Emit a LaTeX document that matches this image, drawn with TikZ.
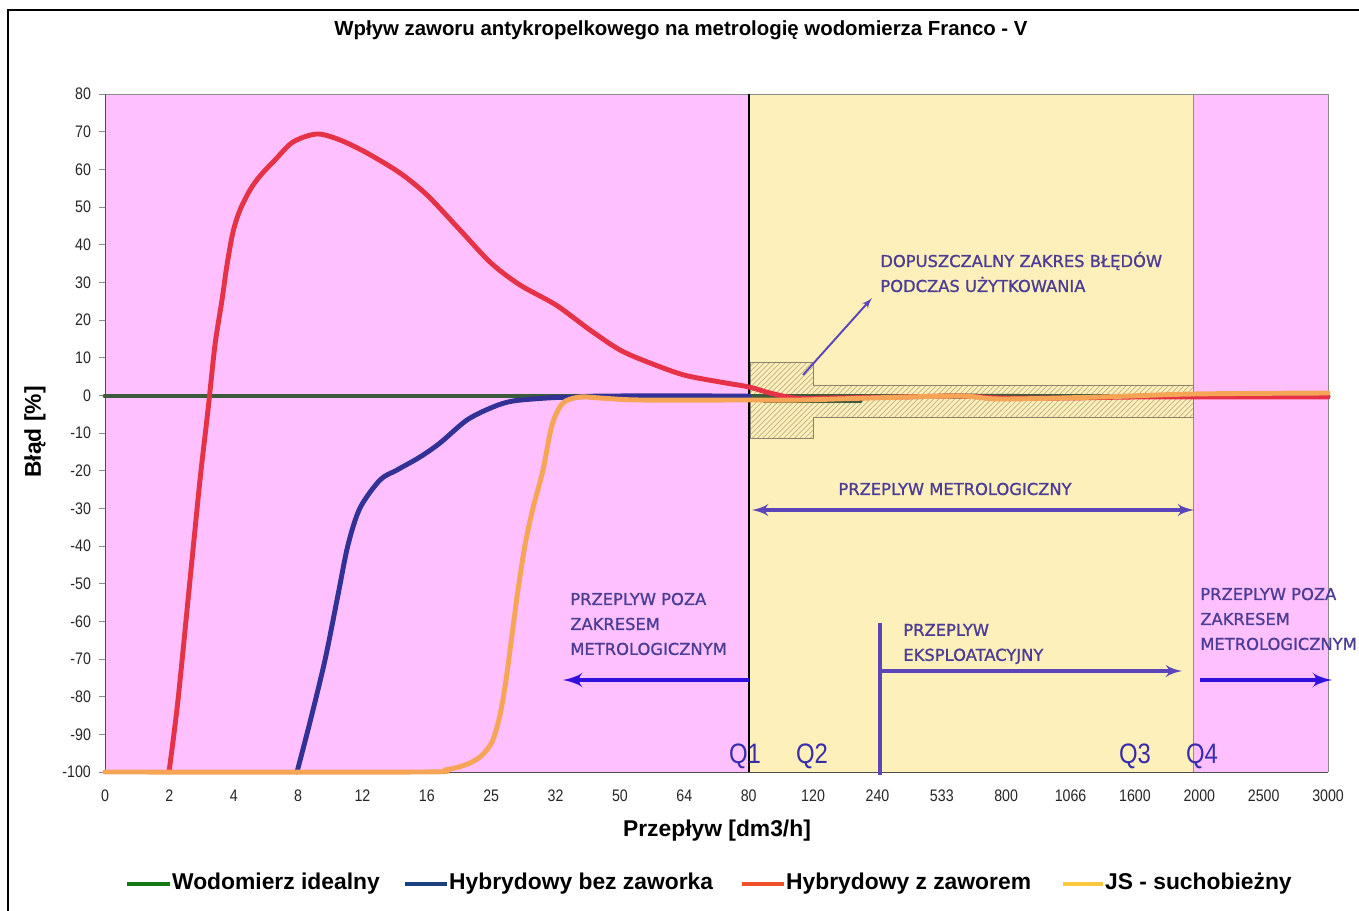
\documentclass[tikz,border=0pt]{standalone}
\usepackage{fontspec}
\setmainfont{Liberation Sans}
\newfontfamily\annfont[FakeBold=1.1]{DejaVu Sans}
\newfontfamily\narrowfont[FakeStretch=0.85]{Liberation Sans}
\usepackage{xcolor}
\usepackage{tikz}
\usetikzlibrary{shapes,arrows,patterns}

\definecolor{pinkbg}{RGB}{255,192,255}
\definecolor{yellowbg}{RGB}{254,240,186}
\definecolor{hatchcol}{RGB}{190,175,135}
\definecolor{hatchline}{RGB}{140,130,110}
\definecolor{anntext}{RGB}{75,60,150}
\definecolor{arrblue}{RGB}{51,17,221}
\definecolor{arrpurple}{RGB}{90,70,185}
\definecolor{qcol}{RGB}{55,45,170}
\definecolor{idealcol}{RGB}{60,90,60}
\definecolor{bezcol}{RGB}{50,50,150}
\definecolor{zcol}{RGB}{230,50,70}
\definecolor{jscol}{RGB}{245,165,85}
\definecolor{legideal}{RGB}{20,120,20}
\definecolor{legbez}{RGB}{25,65,125}
\definecolor{legz}{RGB}{240,80,40}
\definecolor{legjs}{RGB}{250,200,60}

\begin{document}
\begin{tikzpicture}[x=0.02cm, y=-0.02cm]
	\tikzstyle{tick} = [font=\narrowfont\fontsize{9.5}{11}\selectfont, text=black!85]
	\tikzstyle{axislabel} = [font=\bfseries\fontsize{13}{15}\selectfont]
	\tikzstyle{series} = [line width=2.8pt, line cap=round, line join=round]
	\tikzstyle{note} = [font=\annfont\fontsize{9.3}{14.2}\selectfont, text=anntext, align=left, anchor=west, inner sep=0pt]
	\tikzstyle{qlabel} = [font=\narrowfont\fontsize{16}{18}\selectfont, text=qcol, inner sep=0pt]
	\tikzstyle{legline} = [line width=2.6pt]
	\tikzstyle{legtext} = [font=\bfseries\fontsize{13}{15}\selectfont, anchor=west, inner sep=1pt]
	\useasboundingbox (0,0) rectangle (1359,911);
	\fill[white] (0,0) rectangle (1359,911);
	\draw[line width=1pt] (8,10) rectangle (1370,920);
	% Place background zones
	\fill[pinkbg] (105,94) rectangle (749,772);
	\fill[yellowbg] (749,94) rectangle (1193,772);
	\fill[pinkbg] (1193,94) rectangle (1328,772);
	\draw[black!45] (105,94) -- (1328,94) -- (1328,772);
	\draw[black!45] (1193,94) -- (1193,772);
	\draw[black!70] (105,94) -- (105,772) -- (1328,772);
	\draw[line width=1.4pt] (749,94) -- (749,772);
	% Axis ticks
	\foreach \v [count=\i] in {80,70,...,-100} {
		\draw[black!45] (99,{94+(80-\v)*3.7667}) -- (105,{94+(80-\v)*3.7667});
		\node[tick, anchor=east, inner sep=1pt] (yt\i) at (93,{94+(80-\v)*3.7667}) {\v};
	}
	\foreach \lab [count=\i from 0] in {0,2,4,8,12,16,25,32,50,64,80,120,240,533,800,1066,1600,2000,2500,3000}
		\node[tick] (xt\i) at ({105+64.37*\i},796) {\lab};
	% Tolerance band
	\draw[hatchline, pattern=north east lines, pattern color=hatchcol]
		(750,362) -- (813,362) -- (813,385) -- (1193,385) -- (1193,417) -- (813,417) -- (813,438) -- (750,438) -- cycle;
	% Series
	\draw[series, idealcol] (105,396) -- (1328,396);
	\draw[series, idealcol] (765,401) -- (860,401);
	\draw[series, idealcol] (943,396) -- (1105,397);
	\draw[series, bezcol] plot[smooth, tension=0.5] coordinates {
		(297,772) (310,722) (325,660) (338,595) (348,545) (360,508) (380,480) (397,470)
		(420,457) (440,443) (467,420) (493,407) (513,401) (547,398) (573,397) (610,396) (749,396)};
	\draw[series, zcol] plot[smooth, tension=0.5] coordinates {
		(169,772) (178,700) (190,580) (200,480) (208,410) (215,345) (222,300) (227,265)
		(233,232) (240,210) (250,190) (260,176) (275,160) (293,142) (317,134) (340,140)
		(367,153) (400,173) (427,195) (460,230) (491,263) (520,285) (556,305) (590,330)
		(620,350) (650,363) (684,375) (720,382) (749,387) (770,393) (795,398) (830,398)
		(900,397) (960,396) (1000,398) (1066,398) (1135,397) (1193,397) (1328,397)};
	\draw[series, jscol] plot[smooth, tension=0.5] coordinates {
		(105,772) (420,772) (445,770) (465,765) (480,757) (492,742) (500,715) (506,680)
		(512,635) (518,590) (525,545) (533,508) (543,470) (552,425) (563,403) (580,397) (600,398)
		(640,400) (749,400) (800,400) (870,398) (960,396) (1000,399) (1100,397) (1193,394)
		(1328,393)};
	% Annotations
	\node[note] (tol) at (880,272) {DOPUSZCZALNY ZAKRES BŁĘDÓW\\PODCZAS UŻYTKOWANIA};
	\coordinate (tolfrom) at (803,375);
	\coordinate (tolto) at (872,298);
	\draw[arrpurple, line width=1.1pt, -latex'] (tolfrom) -- (tolto);
	\node[note, anchor=center] (metro) at (955,489) {PRZEPLYW METROLOGICZNY};
	\coordinate (mleft) at (752,510);
	\coordinate (mright) at (1194,510);
	\draw[arrpurple, line width=2.2pt, latex'-latex'] (mleft) -- (mright);
	\node[note] (pozaL) at (570,624) {PRZEPLYW POZA\\ZAKRESEM\\METROLOGICZNYM};
	\coordinate (lstart) at (749,680);
	\coordinate (lend) at (563,680);
	\draw[arrblue, line width=2.8pt, -latex'] (lstart) -- (lend);
	\node[note] (pozaR) at (1200,619) {PRZEPLYW POZA\\ZAKRESEM\\METROLOGICZNYM};
	\coordinate (rstart) at (1200,680);
	\coordinate (rend) at (1332,680);
	\draw[arrblue, line width=2.8pt, -latex'] (rstart) -- (rend);
	\coordinate (etop) at (880,623);
	\coordinate (ebot) at (880,775);
	\coordinate (emid) at (880,671);
	\coordinate (eend) at (1182,671);
	\draw[arrpurple, line width=2pt] (etop) -- (ebot);
	\draw[arrpurple, line width=2.2pt, -latex'] (emid) -- (eend);
	\node[note] (eksp) at (903,644) {PRZEPLYW\\EKSPLOATACYJNY};
	\node[qlabel] (q1) at (745,756) {Q1};
	\node[qlabel] (q2) at (812,756) {Q2};
	\node[qlabel] (q3) at (1135,756) {Q3};
	\node[qlabel] (q4) at (1202,756) {Q4};
	% Titles
	\node[font=\bfseries\fontsize{11.6}{13}\selectfont] (title) at (681,30) {Wpływ zaworu antykropelkowego na metrologię wodomierza Franco - V};
	\node[axislabel, rotate=90] (ylab) at (35,432) {Błąd [\%]};
	\node[axislabel] (xlab) at (717,831) {Przepływ [dm3/h]};
	% Legend
	\coordinate (l1a) at (127,884); \coordinate (l1b) at (170,884);
	\coordinate (l2a) at (405,884); \coordinate (l2b) at (447,884);
	\coordinate (l3a) at (742,884); \coordinate (l3b) at (784,884);
	\coordinate (l4a) at (1063,884); \coordinate (l4b) at (1103,884);
	\draw[legline, legideal] (l1a) -- (l1b);
	\draw[legline, legbez] (l2a) -- (l2b);
	\draw[legline, legz] (l3a) -- (l3b);
	\draw[legline, legjs] (l4a) -- (l4b);
	\node[legtext] (leg1) at (l1b) {Wodomierz idealny};
	\node[legtext] (leg2) at (l2b) {Hybrydowy bez zaworka};
	\node[legtext] (leg3) at (l3b) {Hybrydowy z zaworem};
	\node[legtext] (leg4) at (l4b) {JS - suchobieżny};
\end{tikzpicture}
\end{document}
